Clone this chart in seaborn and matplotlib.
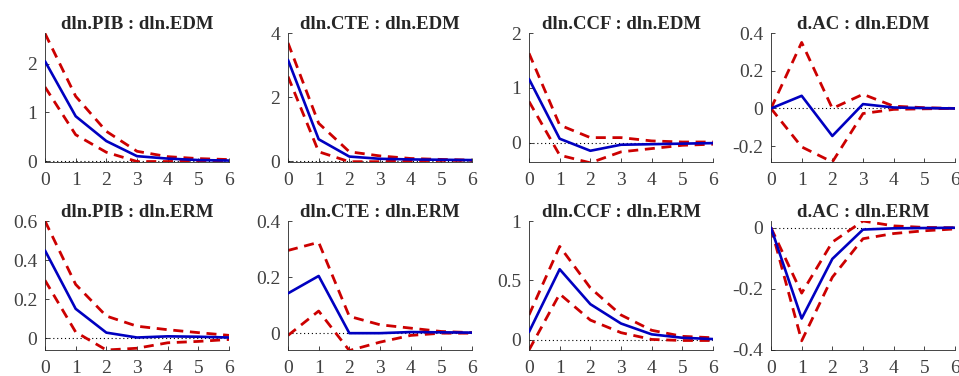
import numpy as np
import pandas as pd
import matplotlib
matplotlib.use("Agg")
import matplotlib.pyplot as plt
import seaborn as sns

horizon = [0, 1, 2, 3, 4, 5, 6]

titles = [
    "dln.PIB : dln.EDM", "dln.CTE : dln.EDM", "dln.CCF : dln.EDM", "d.AC : dln.EDM",
    "dln.PIB : dln.ERM", "dln.CTE : dln.ERM", "dln.CCF : dln.ERM", "d.AC : dln.ERM",
]

# impulse response (median) and confidence bands, one list per panel
irf_mid = [
    [2.05, 0.92, 0.41, 0.10, 0.05, 0.02, 0.01],
    [3.16, 0.68, 0.14, 0.07, 0.05, 0.04, 0.03],
    [1.16, 0.07, -0.15, -0.04, -0.03, -0.02, -0.01],
    [0.0, 0.067, -0.146, 0.023, 0.005, 0.002, 0.0],
    [0.449, 0.15, 0.028, 0.003, 0.009, 0.007, 0.003],
    [0.142, 0.204, 0.0, 0.0, 0.004, 0.003, 0.002],
    [0.066, 0.594, 0.30, 0.137, 0.046, 0.017, 0.006],
    [0.0, -0.297, -0.102, -0.006, -0.002, -0.001, 0.0],
]
irf_upper = [
    [2.62, 1.33, 0.61, 0.20, 0.09, 0.05, 0.03],
    [3.69, 1.18, 0.29, 0.16, 0.08, 0.05, 0.03],
    [1.63, 0.32, 0.09, 0.09, 0.03, 0.01, 0.01],
    [0.0, 0.35, 0.0, 0.075, 0.012, 0.004, 0.0],
    [0.60, 0.275, 0.113, 0.061, 0.043, 0.028, 0.014],
    [0.295, 0.324, 0.06, 0.03, 0.018, 0.006, 0.002],
    [0.209, 0.786, 0.437, 0.209, 0.08, 0.029, 0.017],
    [0.0, -0.214, -0.047, 0.022, 0.006, 0.001, 0.0],
]
irf_lower = [
    [1.52, 0.54, 0.18, -0.01, -0.01, 0.0, 0.0],
    [2.64, 0.29, -0.02, -0.02, 0.01, 0.02, 0.02],
    [0.75, -0.23, -0.37, -0.17, -0.11, -0.05, -0.03],
    [0.0, -0.204, -0.284, -0.027, -0.005, -0.002, 0.0],
    [0.296, 0.031, -0.061, -0.052, -0.024, -0.017, -0.007],
    [-0.008, 0.079, -0.062, -0.032, -0.008, 0.0, 0.0],
    [-0.086, 0.386, 0.166, 0.06, 0.003, -0.006, -0.006],
    [0.0, -0.37, -0.162, -0.036, -0.019, -0.01, -0.004],
]

y_limits = [
    (-0.02, 2.63), (-0.03, 4), (-0.355, 2), (-0.284, 0.4),
    (-0.061, 0.6), (-0.06, 0.4), (-0.086, 1), (-0.40, 0.022),
]
y_ticks = [
    [0, 1, 2], [0, 2, 4], [0, 1, 2], [-0.2, 0, 0.2, 0.4],
    [0, 0.2, 0.4, 0.6], [0, 0.2, 0.4], [0, 0.5, 1], [-0.4, -0.2, 0],
]
y_ticklabels = [
    ["0", "1", "2"], ["0", "2", "4"], ["0", "1", "2"], ["-0.2", "0", "0.2", "0.4"],
    ["0", "0.2", "0.4", "0.6"], ["0", "0.2", "0.4"], ["0", "0.5", "1"], ["-0.4", "-0.2", "0"],
]

sns.set_theme(style="ticks")
plt.rcParams["font.family"] = ["Liberation Serif", "DejaVu Serif"]
plt.rcParams["xtick.direction"] = "in"
plt.rcParams["ytick.direction"] = "in"

fig = plt.figure(figsize=(9.59, 3.76), dpi=100)

col_left = [45, 288, 529, 771]
ax_w = 184
row_top = [33, 221]
ax_h = 129

for i in range(8):
    r, c = divmod(i, 4)
    ax = fig.add_axes([
        col_left[c] / 959, 1 - (row_top[r] + ax_h) / 376, ax_w / 959, ax_h / 376
    ])
    df = pd.DataFrame({
        "h": horizon, "mid": irf_mid[i], "up": irf_upper[i], "lo": irf_lower[i]
    })
    ax.axhline(0, color="black", lw=0.8, linestyle=(0, (1, 2.5)), zorder=1)
    sns.lineplot(data=df, x="h", y="up", ax=ax, color="#cc0000", lw=2,
                 linestyle=(0, (3.6, 2.4)), zorder=2)
    sns.lineplot(data=df, x="h", y="lo", ax=ax, color="#cc0000", lw=2,
                 linestyle=(0, (3.6, 2.4)), zorder=2)
    sns.lineplot(data=df, x="h", y="mid", ax=ax, color="#0000c0", lw=1.9, zorder=3)

    ax.set_xlim(0, 6)
    ax.set_ylim(*y_limits[i])
    ax.set_xticks(horizon)
    ax.set_yticks(y_ticks[i])
    ax.set_yticklabels(y_ticklabels[i])
    ax.set_xlabel("")
    ax.set_ylabel("")
    ax.set_title(titles[i], fontsize=13.5, fontweight="bold", pad=2.5)
    ax.tick_params(labelsize=14, colors="#262626", labelcolor="#404040",
                   length=3, width=0.6)
    ax.tick_params(axis="x", pad=7)
    ax.tick_params(axis="y", pad=5.5)
    sns.despine(ax=ax)
    for side in ["left", "bottom"]:
        ax.spines[side].set_color("#262626")
        ax.spines[side].set_linewidth(0.6)

fig.savefig("out.png", dpi=100)
